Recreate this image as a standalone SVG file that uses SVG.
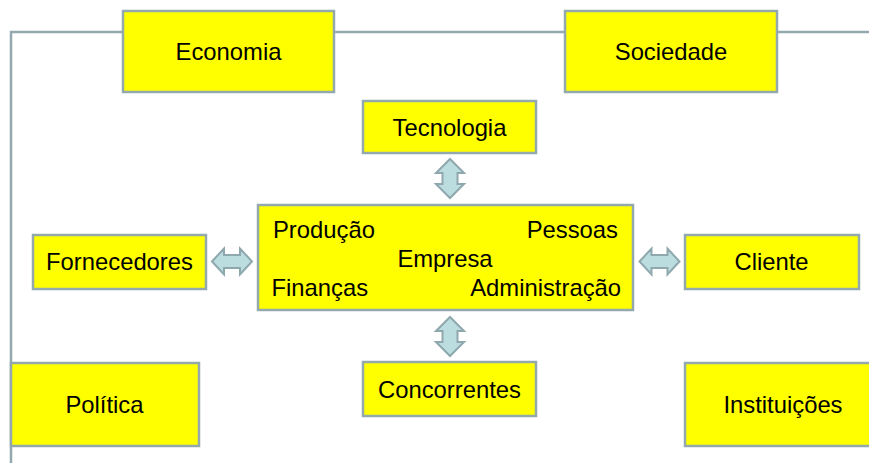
<svg xmlns="http://www.w3.org/2000/svg" width="869" height="463" viewBox="0 0 869 463">
<style>
.box{fill:#ffff00;stroke:#93a9ae;stroke-width:2.5}
.t{font-family:"Liberation Sans",Arial,sans-serif;font-size:23.8px;fill:#000}
.c{text-anchor:middle}
.e{text-anchor:end}
.frame{fill:none;stroke:#93a9ae;stroke-width:2.5}
.arr{fill:#bcdde0;stroke:#8fa8ad;stroke-width:2;stroke-linejoin:miter}
</style>
<defs>
<path id="varr" class="arr" d="M0,0 L14,14 L7.5,14 L7.5,25 L14,25 L0,39 L-14,25 L-7.5,25 L-7.5,14 L-14,14 Z"/>
<path id="harr" class="arr" d="M0,0 L12,-13 L12,-6.5 L28,-6.5 L28,-13 L40,0 L28,13 L28,6.5 L12,6.5 L12,13 Z"/>
</defs>
<g id="connectors">
<path class="frame" d="M11,463 V32 H869"/>
<use href="#varr" x="450" y="159"/>
<use href="#varr" x="450" y="317"/>
<use href="#harr" x="212" y="261.5"/>
<use href="#harr" x="639.5" y="261.5"/>
</g>
<g id="economia"><rect class="box" x="123" y="11" width="211" height="81"/><text class="t c" x="228.5" y="60">Economia</text></g>
<g id="sociedade"><rect class="box" x="565" y="11" width="212" height="81"/><text class="t c" x="671" y="60">Sociedade</text></g>
<g id="tecnologia"><rect class="box" x="363" y="101" width="173" height="52"/><text class="t c" x="449.5" y="135.5">Tecnologia</text></g>
<g id="empresa"><rect class="box" x="258" y="205" width="375" height="105"/>
<text class="t" x="273" y="238">Produção</text>
<text class="t e" x="618" y="238">Pessoas</text>
<text class="t c" x="445" y="267">Empresa</text>
<text class="t" x="271.5" y="296">Finanças</text>
<text class="t e" x="621" y="296">Administração</text></g>
<g id="fornecedores"><rect class="box" x="33" y="235" width="173" height="54"/><text class="t c" x="119.5" y="270">Fornecedores</text></g>
<g id="cliente"><rect class="box" x="685" y="235" width="174" height="54"/><text class="t c" x="771.5" y="270">Cliente</text></g>
<g id="politica"><rect class="box" x="11" y="363" width="188" height="83"/><text class="t c" x="104.5" y="412.5">Política</text></g>
<g id="concorrentes"><rect class="box" x="363" y="362" width="173" height="54"/><text class="t c" x="449.5" y="398">Concorrentes</text></g>
<g id="instituicoes"><rect class="box" x="685" y="363" width="196" height="83"/><text class="t c" x="783" y="412.5">Instituições</text></g>
</svg>
